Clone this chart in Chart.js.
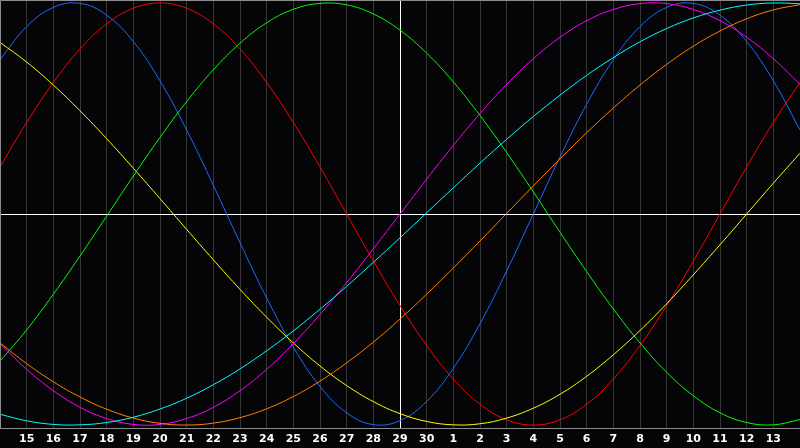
<!DOCTYPE html>
<html>
<head>
<meta charset="utf-8">
<script src="https://cdn.jsdelivr.net/npm/chart.js@4/dist/chart.umd.min.js"></script>
<style>
  html, body { margin: 0; padding: 0; background: #050508; }
  canvas { display: block; }
</style>
</head>
<body>
<canvas id="bio" width="800" height="448"></canvas>
<script>
// days shown on the axis (14th of one month to 14th of the next)
const days = ['14','15','16','17','18','19','20','21','22','23','24','25','26','27','28',
  '29','30','1','2','3','4','5','6','7','8','9','10','11','12','13','14'];
const todayIndex = 15; // '29'

// cycle values, one per day
const physical = [0.731,0.888,0.979,0.998,0.942,0.817,0.631,0.398,0.136,-0.136,-0.398,-0.631,-0.817,-0.942,-0.998,
  -0.979,-0.888,-0.731,-0.520,-0.270,0.000,0.270,0.520,0.731,0.888,0.979,0.998,0.942,0.817,0.631,0.398];
const emotional = [0.223,0.434,0.623,0.782,0.901,0.975,1.000,0.975,0.901,0.782,0.623,0.434,0.223,0.000,-0.223,
  -0.434,-0.623,-0.782,-0.901,-0.975,-1.000,-0.975,-0.901,-0.782,-0.623,-0.434,-0.223,0.000,0.223,0.434,0.623];
const intellectual = [-0.697,-0.549,-0.380,-0.199,-0.010,0.180,0.363,0.533,0.683,0.809,0.906,0.970,0.998,0.991,0.948,
  0.871,0.762,0.626,0.467,0.291,0.105,-0.086,-0.273,-0.450,-0.611,-0.750,-0.861,-0.942,-0.988,-0.999,-0.974];
const aesthetic = [0.813,0.720,0.611,0.489,0.357,0.217,0.073,-0.073,-0.217,-0.357,-0.489,-0.611,-0.720,-0.813,-0.889,
  -0.946,-0.983,-0.999,-0.994,-0.967,-0.920,-0.854,-0.769,-0.667,-0.552,-0.425,-0.288,-0.146,0.000,0.146,0.288];
const intuitive = [-0.614,-0.736,-0.837,-0.916,-0.969,-0.997,-0.997,-0.969,-0.916,-0.837,-0.736,-0.614,-0.476,-0.325,-0.165,
  0.000,0.165,0.325,0.476,0.614,0.736,0.837,0.916,0.969,0.997,0.997,0.969,0.916,0.837,0.736,0.614];
const spiritual = [-0.949,-0.980,-0.997,-0.999,-0.988,-0.963,-0.924,-0.873,-0.809,-0.734,-0.648,-0.554,-0.451,-0.343,-0.229,
  -0.113,0.006,0.124,0.241,0.354,0.462,0.563,0.657,0.741,0.816,0.879,0.929,0.966,0.990,1.000,0.996];
const awareness = [-0.611,-0.709,-0.795,-0.867,-0.925,-0.967,-0.992,-1.000,-0.991,-0.965,-0.923,-0.865,-0.792,-0.705,-0.607,
  -0.498,-0.380,-0.256,-0.128,0.003,0.133,0.261,0.385,0.502,0.611,0.709,0.795,0.867,0.925,0.967,0.992];

function serie(data, color) {
  return {
    data: data,
    borderColor: color,
    borderWidth: 1,
    pointRadius: 0,
    pointHoverRadius: 0,
    tension: 0.4,
    fill: false
  };
}

// fondo y marco gris alrededor del área
const marco = {
  id: 'marco',
  beforeDraw(chart) {
    const c = chart.ctx;
    c.save();
    c.fillStyle = '#050508';
    c.fillRect(0, 0, chart.width, chart.height);
    c.restore();
  },
  afterDraw(chart) {
    const a = chart.chartArea;
    const c = chart.ctx;
    c.save();
    c.strokeStyle = '#8c8c8c';
    c.lineWidth = 1;
    c.beginPath();
    c.moveTo(0.5, a.bottom + 0.5);
    c.lineTo(0.5, 0.5);
    c.lineTo(a.right, 0.5);
    c.moveTo(0, a.bottom + 0.5);
    c.lineTo(a.right, a.bottom + 0.5);
    c.stroke();
    c.restore();
  }
};

new Chart(document.getElementById('bio'), {
  type: 'line',
  data: {
    labels: days,
    datasets: [
      serie(spiritual, '#00ffff'),
      serie(awareness, '#ff8000'),
      serie(intuitive, '#ff00ff'),
      serie(aesthetic, '#ffff00'),
      serie(intellectual, '#00ff00'),
      serie(emotional, '#ff0000'),
      serie(physical, '#1a6cff')
    ]
  },
  options: {
    responsive: false,
    animation: false,
    devicePixelRatio: 1,
    layout: { padding: 0, autoPadding: false },
    plugins: {
      legend: { display: false },
      tooltip: { enabled: false }
    },
    scales: {
      x: {
        type: 'category',
        offset: false,
        afterFit(scale) {
          scale.height = 20;
          scale.paddingLeft = 0;
          scale.paddingRight = 0;
        },
        border: { display: false },
        grid: {
          drawTicks: true,
          tickLength: 5,
          tickColor: 'rgba(0,0,0,0)',
          lineWidth: 1,
          color: ctx => ctx.index === todayIndex ? '#ffffff' : '#363636'
        },
        ticks: {
          autoSkip: false,
          maxRotation: 0,
          padding: 0,
          color: '#ffffff',
          font: { family: 'DejaVu Sans', weight: 'bold', size: 11 },
          callback: (v, i) => (i === 0 || i === days.length - 1) ? '' : days[i]
        }
      },
      y: {
        min: -1.014,
        max: 1.014,
        afterFit(scale) { scale.width = 0; },
        border: { display: false },
        grid: {
          drawTicks: false,
          color: ctx => ctx.tick && ctx.tick.value === 0 ? '#ffffff' : 'rgba(0,0,0,0)'
        },
        ticks: { display: false, stepSize: 0.5 }
      }
    }
  },
  plugins: [marco]
});
</script>
</body>
</html>
